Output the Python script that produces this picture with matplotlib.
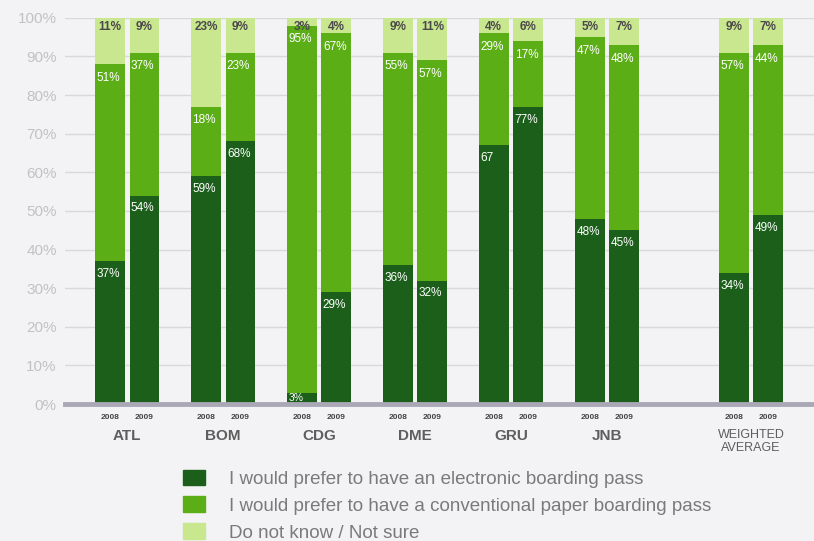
import numpy as np
import matplotlib.pyplot as plt
from matplotlib.patches import Patch
from matplotlib.transforms import blended_transform_factory

plt.rcParams['font.family'] = ['Liberation Sans', 'DejaVu Sans']

airports = ['ATL', 'BOM', 'CDG', 'DME', 'GRU', 'JNB', 'WEIGHTED\nAVERAGE']
group_pos = [0, 1, 2, 3, 4, 5, 6.5]
years = ['2008', '2009']

# (2008, 2009) per airport
electronic_2008 = [37, 59, 3, 36, 67, 48, 34]
electronic_2009 = [54, 68, 29, 32, 77, 45, 49]
paper_2008 = [51, 18, 95, 55, 29, 47, 57]
paper_2009 = [37, 23, 67, 57, 17, 48, 44]
unsure_2008 = [11, 23, 3, 9, 4, 5, 9]
unsure_2009 = [9, 9, 4, 11, 6, 7, 7]

# printed labels (GRU 2008 shows no % sign in the source)
electronic_lbl_2008 = ['37%', '59%', '3%', '36%', '67', '48%', '34%']

C_DARK = '#1b5f1b'
C_MID = '#5cae16'
C_LIGHT = '#c9e78f'
BG = '#f3f3f5'

fig = plt.figure(figsize=(8.14, 5.41), dpi=100, facecolor=BG)
ax = fig.add_axes([0.080, 0.253, 0.920, 0.714], facecolor=BG)

width = 0.31
offset = 0.18
series = [
    (electronic_2008, paper_2008, unsure_2008, -offset),
    (electronic_2009, paper_2009, unsure_2009, offset),
]

for k, (el, pa, un, off) in enumerate(series):
    x = np.array(group_pos) + off
    el = np.array(el)
    pa = np.array(pa)
    un = np.array(un)
    mid_top = np.minimum(el + pa, 100)
    ax.bar(x, el, width, color=C_DARK, zorder=3)
    ax.bar(x, mid_top - el, width, bottom=el, color=C_MID, zorder=3)
    # the printed shares are rounded; the light segment closes each bar at 100%
    ax.bar(x, 100 - mid_top, width, bottom=mid_top, color=C_LIGHT, zorder=3)
    for i in range(len(x)):
        lbl_el = electronic_lbl_2008[i] if k == 0 else f'{el[i]}%'
        # tiny segments (CDG 2008) keep their label snug under the edge
        dy = -5 if el[i] > 8 else -0.5
        ax.annotate(lbl_el, (x[i] - width / 2, el[i]), xytext=(1, dy),
                    textcoords='offset points', ha='left', va='top',
                    color='white', fontsize=8.5 if el[i] > 8 else 7.5, zorder=5)
        ax.annotate(f'{pa[i]}%', (x[i] - width / 2, mid_top[i]),
                    xytext=(1, -5.5), textcoords='offset points', ha='left',
                    va='top', color='white', fontsize=8.5, zorder=5)
        ax.annotate(f'{un[i]}%', (x[i], 100), xytext=(0, -2),
                    textcoords='offset points', ha='center', va='top',
                    color='#4a4a4a', fontsize=8.5, fontweight='bold', zorder=5)

ax.set_ylim(0, 100)
ax.set_xlim(-0.646, 7.156)
ax.set_yticks(range(0, 101, 10))
ax.set_yticklabels([f'{v}%' for v in range(0, 101, 10)])
ax.tick_params(axis='y', length=0, labelsize=11, labelcolor='#c2c2c2', pad=6)
ax.grid(axis='y', color='#d9d9dc', linewidth=1, zorder=0)
ax.axhline(0, color='#aaa8b6', linewidth=3.5, zorder=4, clip_on=False)
for s in ax.spines.values():
    s.set_visible(False)

bar_x = []
bar_lbl = []
for p in group_pos:
    bar_x += [p - offset, p + offset]
    bar_lbl += years
ax.set_xticks(bar_x)
ax.set_xticklabels(bar_lbl)
ax.tick_params(axis='x', length=0, labelsize=6, labelcolor='#444444', pad=7)
for t in ax.get_xticklabels():
    t.set_fontweight('bold')

trans = blended_transform_factory(ax.transData, ax.transAxes)
for p, name in zip(group_pos, airports):
    ax.text(p, -0.065, name, transform=trans, ha='center', va='top',
            fontsize=11 if '\n' not in name else 9, color='#5e5e5e',
            linespacing=1.1, fontweight='bold' if '\n' not in name else 'normal')

handles = [Patch(color=C_DARK), Patch(color=C_MID), Patch(color=C_LIGHT)]
labels = ['I would prefer to have an electronic boarding pass',
          'I would prefer to have a conventional paper boarding pass',
          'Do not know / Not sure']
fig.legend(handles, labels, loc='upper left', bbox_to_anchor=(0.225, 0.132),
           frameon=False, fontsize=13.5, labelcolor='#7a7a7a',
           handlelength=1.17, handleheight=0.92, handletextpad=1.25,
           labelspacing=0.45, borderaxespad=0, borderpad=0)

fig.savefig('out.png', dpi=100, facecolor=BG)
